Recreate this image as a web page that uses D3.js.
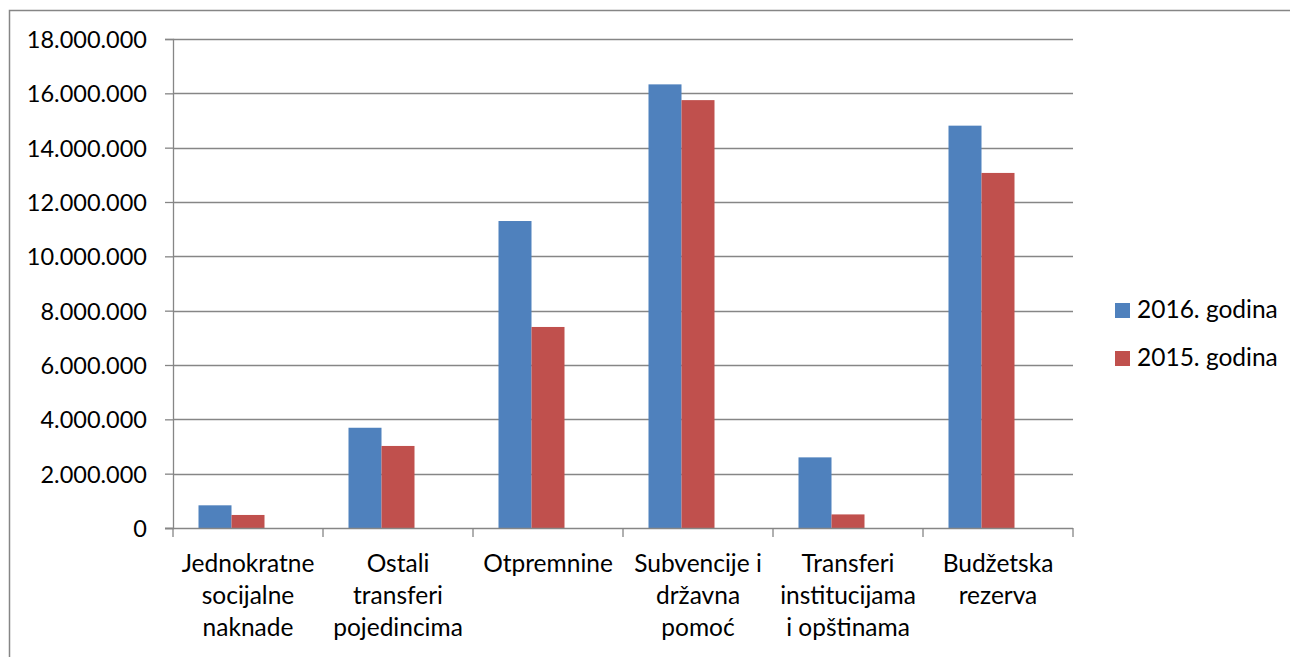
<!DOCTYPE html>
<html>
<head>
<meta charset="utf-8">
<script src="https://cdn.jsdelivr.net/npm/d3@7"></script>
<style>
    body { margin: 0; background: #fff; }
    svg text { font-family: Lato, "Open Sans", sans-serif; fill: #000; }
</style>
</head>
<body>
<div id="chart"></div>
<script>
// data
var categories = [
    ["Jednokratne", "socijalne", "naknade"],
    ["Ostali", "transferi", "pojedincima"],
    ["Otpremnine"],
    ["Subvencije i", "državna", "pomoć"],
    ["Transferi", "institucijama", "i opštinama"],
    ["Budžetska", "rezerva"]
];
var seriesNames = ["2016. godina", "2015. godina"];
var values2016 = [835000, 3690000, 11300000, 16330000, 2600000, 14810000];
var values2015 = [480000, 3020000, 7400000, 15750000, 500000, 13070000];
var yTicks = [0, 2000000, 4000000, 6000000, 8000000, 10000000, 12000000, 14000000, 16000000, 18000000];
var colors = ["#4F81BD", "#C0504D"];

var W = 1290, H = 657,
    plot = {left: 173, right: 1073, top: 39, bottom: 528};

var svg = d3.select("#chart").append("svg")
    .attr("width", W)
    .attr("height", H);

// outer chart frame (runs off the right / bottom of the picture)
svg.append("path")
    .attr("d", "M9.5," + H + "V10.5H" + W)
    .attr("fill", "none")
    .attr("stroke", "#868686")
    .attr("stroke-width", 1.5);

var keys = categories.map(function (c) { return c.join(" "); });

var x0 = d3.scaleBand()
    .domain(keys)
    .range([plot.left, plot.right])
    .paddingInner(0.34)
    .paddingOuter(0.17);

// third slot is an empty series in the original workbook, keeps bars off-centre
var x1 = d3.scaleBand()
    .domain(["s0", "s1", "s2"])
    .range([0, x0.bandwidth()]);

var y = d3.scaleLinear()
    .domain([0, 18000000])
    .range([plot.bottom, plot.top]);

var fmt = d3.formatLocale({decimal: ",", thousands: ".", grouping: [3], currency: ["", ""]}).format(",d");

// gridlines
svg.append("g")
    .selectAll("line")
    .data(yTicks.filter(function (d) { return d > 0; }))
    .enter().append("line")
    .attr("x1", plot.left)
    .attr("x2", plot.right)
    .attr("y1", function (d) { return Math.round(y(d)) + 0.5; })
    .attr("y2", function (d) { return Math.round(y(d)) + 0.5; })
    .attr("stroke", "#868686")
    .attr("stroke-width", 1.3);

// bars
var series = [values2016, values2015];
series.forEach(function (vals, si) {
    svg.append("g")
        .selectAll("rect")
        .data(vals)
        .enter().append("rect")
        .attr("x", function (d, i) { return x0(keys[i]) + x1("s" + si); })
        .attr("y", function (d) { return y(d); })
        .attr("width", x1.bandwidth())
        .attr("height", function (d) { return y(0) - y(d); })
        .attr("fill", colors[si]);
});

// y axis
var yAxis = svg.append("g")
    .attr("transform", "translate(" + plot.left + ",0)")
    .call(d3.axisLeft(y).tickValues(yTicks).tickFormat(fmt).tickSize(8).tickPadding(18));
yAxis.select(".domain").attr("stroke", "#868686").attr("stroke-width", 1.3);
yAxis.selectAll(".tick line").attr("stroke", "#868686").attr("stroke-width", 1.3);
yAxis.selectAll(".tick text")
    .attr("font-size", 23.5)
    .attr("font-family", null)
    .attr("dy", "0.36em");

// x axis line + category separators
var step = x0.step();
svg.append("line")
    .attr("x1", plot.left - 8).attr("x2", plot.right)
    .attr("y1", plot.bottom + 0.5).attr("y2", plot.bottom + 0.5)
    .attr("stroke", "#868686").attr("stroke-width", 1.3);

svg.append("g")
    .selectAll("line")
    .data(d3.range(keys.length + 1))
    .enter().append("line")
    .attr("x1", function (i) { return plot.left + i * step; })
    .attr("x2", function (i) { return plot.left + i * step; })
    .attr("y1", plot.bottom)
    .attr("y2", plot.bottom + 9)
    .attr("stroke", "#868686")
    .attr("stroke-width", 1.3);

// category labels
var labels = svg.append("g")
    .selectAll("text")
    .data(categories)
    .enter().append("text")
    .attr("text-anchor", "middle")
    .attr("font-size", 24.5)
    .attr("x", function (d, i) { return x0(keys[i]) + x1.step() * 1.5; });

labels.selectAll("tspan")
    .data(function (d) { return d; })
    .enter().append("tspan")
    .attr("x", function () { return d3.select(this.parentNode).attr("x"); })
    .attr("y", function (d, j) { return 572 + j * 32; })
    .text(function (d) { return d; });

// legend
var legend = svg.append("g")
    .selectAll("g")
    .data(seriesNames)
    .enter().append("g")
    .attr("transform", function (d, i) { return "translate(1115," + (303 + i * 48) + ")"; });

legend.append("rect")
    .attr("width", 15)
    .attr("height", 15)
    .attr("fill", function (d, i) { return colors[i]; });

legend.append("text")
    .attr("x", 22)
    .attr("y", 15)
    .attr("font-size", 24.5)
    .text(function (d) { return d; });
</script>
</body>
</html>
